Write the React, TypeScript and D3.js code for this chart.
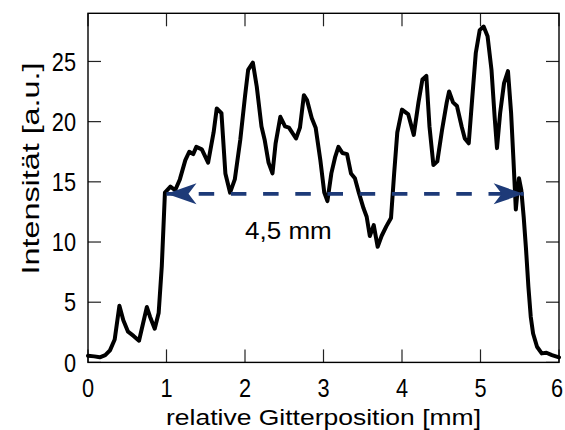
import React from "react";
import * as d3 from "d3";

const xVals = [0, 0.08, 0.15, 0.22, 0.28, 0.34, 0.40, 0.45, 0.51, 0.58, 0.65, 0.75, 0.79, 0.85, 0.90, 0.94, 0.98, 1.05, 1.11, 1.17, 1.24, 1.29, 1.34, 1.38, 1.45, 1.53, 1.60, 1.64, 1.70, 1.75, 1.81, 1.87, 1.94, 2.00, 2.04, 2.10, 2.15, 2.21, 2.25, 2.30, 2.35, 2.39, 2.45, 2.51, 2.56, 2.65, 2.70, 2.75, 2.79, 2.85, 2.90, 2.96, 3.01, 3.05, 3.10, 3.15, 3.19, 3.24, 3.30, 3.35, 3.40, 3.45, 3.51, 3.55, 3.59, 3.64, 3.69, 3.74, 3.80, 3.86, 3.90, 3.94, 4.00, 4.08, 4.15, 4.21, 4.26, 4.31, 4.35, 4.40, 4.45, 4.51, 4.57, 4.60, 4.65, 4.70, 4.76, 4.80, 4.85, 4.90, 4.94, 4.99, 5.04, 5.09, 5.14, 5.18, 5.21, 5.25, 5.30, 5.35, 5.39, 5.42, 5.45, 5.47, 5.49, 5.52, 5.55, 5.58, 5.61, 5.64, 5.67, 5.72, 5.78, 5.84, 5.91, 6.0];
const intensity = [0.55, 0.5, 0.42, 0.6, 1.0, 1.9, 4.7, 3.5, 2.55, 2.2, 1.8, 4.6, 3.8, 2.8, 4.1, 8.0, 14.1, 14.6, 14.3, 15.2, 16.8, 17.5, 17.3, 17.9, 17.7, 16.6, 19.1, 21.1, 20.7, 15.7, 14.1, 15.2, 18.5, 22.1, 24.3, 24.9, 22.9, 19.6, 18.5, 16.6, 15.7, 18.2, 20.4, 19.6, 19.5, 18.6, 19.5, 22.2, 21.8, 20.3, 19.5, 16.8, 14.1, 13.4, 15.7, 17.1, 17.9, 17.4, 17.3, 15.7, 15.3, 14.1, 12.8, 12.1, 10.5, 11.4, 9.6, 10.5, 11.3, 12.0, 15.7, 19.1, 21.0, 20.6, 18.9, 21.6, 23.5, 23.8, 19.6, 16.4, 16.7, 19.3, 21.6, 22.5, 21.6, 21.3, 19.6, 18.6, 18.2, 22.4, 25.7, 27.6, 27.9, 27.1, 24.3, 20.4, 17.8, 20.7, 23.2, 24.2, 20.7, 16.8, 12.7, 14.1, 15.3, 14.3, 12.1, 9.4, 6.3, 3.8, 2.4, 1.3, 0.75, 0.8, 0.6, 0.42];

const xTicks = [0, 1, 2, 3, 4, 5, 6];
const yTicks = [0, 5, 10, 15, 20, 25];
const arrowFrom = [1.0];
const arrowTo = [5.55];
const arrowLevel = [14.0];
const arrowLabel = "4,5 mm";
const xLabel = "relative Gitterposition [mm]";
const yLabel = "Intensität [a.u.]";

const W = 565, H = 430;
const L = 88, R = 559, T = 13.3, B = 362.4;

export default function App() {
  const x = d3.scaleLinear().domain([0, 6]).range([L, R]);
  const y = d3.scaleLinear().domain([0, 29]).range([B, T]);
  const pts = xVals.map((v, i) => [v, intensity[i]] as [number, number]);
  const line = d3.line<[number, number]>().x(d => x(d[0])).y(d => y(d[1]));
  const ax0 = x(arrowFrom[0]), ax1 = x(arrowTo[0]), ay = y(arrowLevel[0]);
  const navy = "#1d3a78";
  const headLen = 30, headW = 10.5, notch = 22;
  const headPath = (tip: number, dir: number) =>
    `M${tip},${ay} L${tip + dir * headLen},${ay - headW} L${tip + dir * notch},${ay} L${tip + dir * headLen},${ay + headW} Z`;
  const font = "'Liberation Sans', Arial, Helvetica, sans-serif";
  return (
    <svg width={W} height={H} style={{ position: "absolute", left: 0, top: 0, background: "#fff" }} fontFamily={font}>
      <rect x={0} y={0} width={W} height={H} fill="#fff" />
      {xTicks.map(t => (
        <g key={"xt" + t}>
          <line x1={x(t)} x2={x(t)} y1={B} y2={B - 13} stroke="#222" strokeWidth={1.2} />
          <line x1={x(t)} x2={x(t)} y1={T} y2={T + 13} stroke="#222" strokeWidth={1.2} />
          <text x={Math.min(x(t), 557)} y={396.7} fontSize={25.5} textAnchor="middle" textLength={12.1 * String(t).length} lengthAdjust="spacingAndGlyphs" fill="#000">{t}</text>
        </g>
      ))}
      {yTicks.map(t => (
        <g key={"yt" + t}>
          <line x1={L} x2={L + 13} y1={y(t)} y2={y(t)} stroke="#222" strokeWidth={1.2} />
          <line x1={R} x2={R - 13} y1={y(t)} y2={y(t)} stroke="#222" strokeWidth={1.2} />
          <text x={76} y={y(t) + 9.1} fontSize={25.5} textAnchor="end" textLength={12.1 * String(t).length} lengthAdjust="spacingAndGlyphs" fill="#000">{t}</text>
        </g>
      ))}
      <path d={line(pts) || ""} fill="none" stroke="#000" strokeWidth={4} strokeLinejoin="round" strokeLinecap="round" />
      <line x1={ax0} x2={ax1} y1={ay} y2={ay} stroke={navy} strokeWidth={3.6} strokeDasharray="15.5 16.7" />
      <path d={headPath(ax0, 1)} fill={navy} />
      <path d={headPath(ax1, -1)} fill={navy} />
      <text x={245} y={239.3} fontSize={23.3} textLength={86.7} lengthAdjust="spacingAndGlyphs" fill="#000">{arrowLabel}</text>
      <rect x={L} y={T} width={R - L} height={B - T} fill="none" stroke="#000" strokeWidth={1.4} />
      <text x={(L + R) / 2} y={424.5} fontSize={22.5} textAnchor="middle" textLength={315} lengthAdjust="spacingAndGlyphs" fill="#000">{xLabel}</text>
      <text transform={`translate(38.5,168.5) rotate(-90)`} fontSize={24} textAnchor="middle" textLength={212} lengthAdjust="spacingAndGlyphs" fill="#000">{yLabel}</text>
    </svg>
  );
}
